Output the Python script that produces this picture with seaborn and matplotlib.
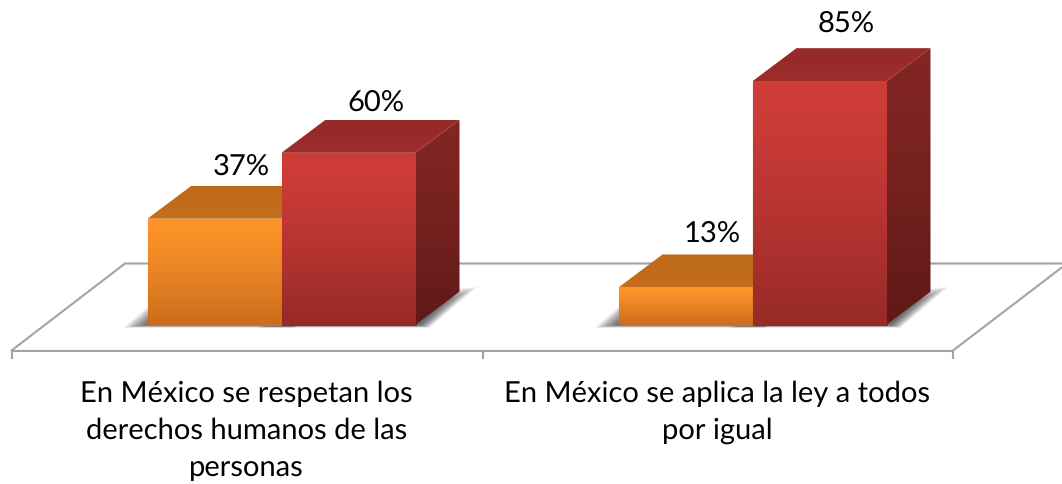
import numpy as np
import pandas as pd
import matplotlib
matplotlib.use("Agg")
import matplotlib.pyplot as plt
from matplotlib.patches import Polygon
import seaborn as sns

categories = ["En México se respetan los\nderechos humanos de las\npersonas",
              "En México se aplica la ley a todos\npor igual"]
series_names = ["Serie A", "Serie B"]
serie_a = [37, 13]
serie_b = [60, 85]
value_labels = ["37%", "60%", "13%", "85%"]

W, H = 1062, 485
AX_L, AX_R, AX_B = 12, 953, 352
GROUP0_PX, GROUP_STEP_PX = 281.5, 471.0
BASE_PX, PX_PER_UNIT = 325.7, 2.865
DX, DY = 44, 33
LIFT = [53, 51.5, 55, 59]
LINE = "#a3a3a3"

sns.set_theme(style="white")
plt.rcParams["font.family"] = ["Lato", "DejaVu Sans"]
plt.rcParams["text.hinting"] = "no_hinting"

df = pd.DataFrame({
    "categoria": categories * 2,
    "serie": [series_names[0]] * 2 + [series_names[1]] * 2,
    "valor": serie_a + serie_b,
})

fig = plt.figure(figsize=(W / 100, H / 100), dpi=100, facecolor="white")
ax = fig.add_axes([AX_L / W, (H - AX_B) / H, (AX_R - AX_L) / W, AX_B / H])
ax.patch.set_alpha(0)

sns.barplot(data=df, x="categoria", y="valor", hue="serie", hue_order=series_names,
            palette=["#ee8a26", "#b83331"], width=268 / GROUP_STEP_PX, gap=0,
            dodge=True, legend=False, saturation=1, ax=ax, zorder=3)


def xpx(p):
    return (p - GROUP0_PX) / GROUP_STEP_PX


def ypx(p):
    return (BASE_PX - p) / PX_PER_UNIT


xlim = (xpx(AX_L), xpx(AX_R))
ylim = (ypx(AX_B), ypx(0))
sx, sy = 1 / GROUP_STEP_PX, 1 / PX_PER_UNIT


def hexrgb(c):
    return np.array(matplotlib.colors.to_rgb(c))


def gradient_face(pts, top, bottom, z):
    poly = Polygon(pts, closed=True, transform=ax.transData, fc="none", ec="none")
    ax.add_patch(poly)
    pts = np.asarray(pts)
    t = (np.linspace(0, 1, 128) ** 1.25)[:, None, None]
    img = hexrgb(top)[None, None, :] * (1 - t) + hexrgb(bottom)[None, None, :] * t
    im = ax.imshow(img, aspect="auto", interpolation="bilinear", zorder=z,
                   extent=(pts[:, 0].min(), pts[:, 0].max(), pts[:, 1].min(), pts[:, 1].max()),
                   origin="upper")
    im.set_clip_path(poly)
    poly.set_zorder(z)


styles = {
    0: dict(front=("#ff9529", "#cb6d1c"), top=("#bd6a1b", "#c56e1c"), side=("#a85e18", "#7a4310"),
            edge="#c9741f"),
    1: dict(front=("#d03d39", "#982a28"), top=("#952a29", "#9e2d2b"), side=("#832624", "#5f1917"),
            edge="#8c2725"),
}

bars = sorted(ax.patches, key=lambda b: b.get_x())
for order, b in enumerate(bars):
    which = order % 2
    st = styles[which]
    x0, x1 = b.get_x(), b.get_x() + b.get_width()
    h = b.get_height()
    dx, dy = DX * sx, DY * sy
    z = 3 + order
    b.set_zorder(z)
    b.set_edgecolor(st["edge"])
    b.set_linewidth(0.8)
    # soft cast shadow on the floor
    n = 16
    for k in range(n):
        f = k / (n - 1)
        ax.add_patch(Polygon([
            (x0 - 24 * (1 - f) * sx, -3 * (1 - f) * sy),
            (x0 + 6 * f * sx, (18 - 14 * f) * sy),
            (x1 + (62 - 34 * f) * sx, (38 - 16 * f) * sy),
            (x1 + (14 - 10 * f) * sx, -3 * (1 - f) * sy),
        ], closed=True, fc="#000000", ec="none", alpha=0.05, zorder=2))
    gradient_face([(x1, 0), (x1 + dx, dy), (x1 + dx, h + dy), (x1, h)], *st["side"], z + 0.1)
    gradient_face([(x0, h), (x0 + dx, h + dy), (x1 + dx, h + dy), (x1, h)], *st["top"], z + 0.1)
    gradient_face([(x0, 0), (x1, 0), (x1, h), (x0, h)], *st["front"], z + 0.2)
    ax.annotate(value_labels[order], xy=((x0 + x1) / 2, h), xytext=(27 * 0.72, LIFT[order] * 0.72),
                textcoords="offset points", ha="center", va="center", fontsize=21,
                color="black", zorder=20, annotation_clip=False)

# floor outline, behind the bars
floor_x = [xpx(11.5), xpx(125), xpx(1067), xpx(953)]
floor_y = [ypx(351.5), ypx(264.5), ypx(264.5), ypx(351.5)]
ax.plot(floor_x, floor_y, color=LINE, lw=1.5, zorder=1, clip_on=False, solid_joinstyle="miter")

ax.set_xlim(*xlim)
ax.set_ylim(*ylim)
sns.despine(ax=ax, left=True, top=True, right=True)
ax.spines["bottom"].set_color(LINE)
ax.spines["bottom"].set_linewidth(1.5)
ax.set_yticks([])
ax.set_xlabel("")
ax.set_ylabel("")
ax.set_xticks([xpx(AX_L), xpx(482.5), xpx(AX_R)], labels=["", "", ""])
ax.tick_params(axis="x", which="major", bottom=True, length=6, width=1.5, color=LINE)
ax.set_xticks([xpx(246.5), xpx(717.5)], labels=categories, minor=True)
ax.tick_params(axis="x", which="minor", bottom=False, length=0, pad=20.5, labelsize=21,
               labelcolor="black")
for t in ax.get_xticklabels(minor=True):
    t.set_linespacing(1.5)
    t.set_va("top")

fig.savefig("out.png", dpi=100, facecolor="white")
